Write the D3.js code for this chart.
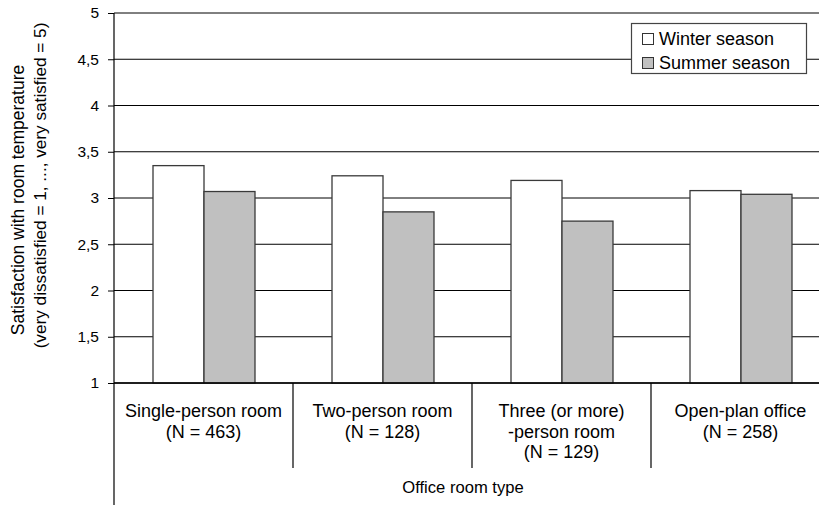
<!DOCTYPE html>
<html>
<head>
<meta charset="utf-8">
<script src="https://cdn.jsdelivr.net/npm/d3@7"></script>
<style>
  html, body { margin: 0; padding: 0; background: #fff; }
  svg { display: block; font-family: "Liberation Sans", Arial, sans-serif; }
</style>
</head>
<body>
<svg id="chart" width="819" height="505"></svg>
<script>
// Office room types (label lines) and mean satisfaction per season
const categories = [
  ["Single-person room", "(N = 463)"],
  ["Two-person room", "(N = 128)"],
  ["Three (or more)", "-person room", "(N = 129)"],
  ["Open-plan office", "(N = 258)"]
];
const winter = [3.35, 3.24, 3.19, 3.08];
const summer = [3.07, 2.85, 2.75, 3.04];
const seriesNames = ["Winter season", "Summer season"];
const seriesColors = ["#ffffff", "#c0c0c0"];
const yTicks = [1, 1.5, 2, 2.5, 3, 3.5, 4, 4.5, 5];
const yTitle = ["Satisfaction with room temperature",
                "(very dissatisfied = 1, ..., very satisfied = 5)"];
const xTitle = "Office room type";

const svg = d3.select("#chart");
const plotLeft = 114, plotRight = 830, plotTop = 13, plotBottom = 383;

const keys = categories.map(c => c.join(" "));
const rows = keys.map((k, i) => ({ key: k, lines: categories[i], values: [winter[i], summer[i]] }));

const y = d3.scaleLinear().domain([1, 5]).range([plotBottom, plotTop]);
const x = d3.scaleBand().domain(keys).range([plotLeft, plotRight]).padding(0);
const xs = d3.scaleBand().domain([0, 1]).range([0, x.bandwidth()])
  .paddingInner(0).paddingOuter(0.755);

const comma = d3.formatLocale({ decimal: ",", thousands: ".", grouping: [3], currency: ["", ""] }).format("~g");

// horizontal gridlines
svg.append("g")
  .selectAll("line")
  .data(yTicks)
  .join("line")
  .attr("x1", plotLeft).attr("x2", plotRight)
  .attr("y1", d => y(d)).attr("y2", d => y(d))
  .attr("stroke", "#000").attr("stroke-width", 1);

// bars
const groups = svg.append("g")
  .selectAll("g")
  .data(rows)
  .join("g")
  .attr("transform", d => `translate(${x(d.key)},0)`);

groups.selectAll("rect")
  .data(d => d.values.map((v, i) => ({ i, v })))
  .join("rect")
  .attr("x", d => xs(d.i) + 0.5)
  .attr("width", xs.bandwidth())
  .attr("y", d => y(d.v))
  .attr("height", d => y(1) - y(d.v))
  .attr("fill", d => seriesColors[d.i])
  .attr("stroke", "#3a3a3a")
  .attr("stroke-width", 1.3);

// y axis with ticks and comma decimal labels
const yAxis = svg.append("g")
  .attr("transform", `translate(${plotLeft},0)`)
  .call(d3.axisLeft(y).tickValues(yTicks).tickSize(6).tickPadding(9).tickFormat(comma));
yAxis.select(".domain").remove();
yAxis.selectAll(".tick line").attr("stroke", "#000");
yAxis.selectAll(".tick text")
  .attr("font-size", 15.5)
  .attr("font-family", "Liberation Sans, Arial, sans-serif")
  .attr("fill", "#000");

// axis line, extended down through the category label area
svg.append("line")
  .attr("x1", plotLeft).attr("x2", plotLeft)
  .attr("y1", plotTop).attr("y2", 505)
  .attr("stroke", "#000").attr("stroke-width", 1.2);

// baseline
svg.append("line")
  .attr("x1", plotLeft).attr("x2", plotRight)
  .attr("y1", y(1)).attr("y2", y(1))
  .attr("stroke", "#000").attr("stroke-width", 1.3);

// category separators
svg.append("g")
  .selectAll("line")
  .data(keys.slice(1).concat([null]))
  .join("line")
  .attr("x1", d => d ? x(d) : plotRight).attr("x2", d => d ? x(d) : plotRight)
  .attr("y1", y(1)).attr("y2", 468)
  .attr("stroke", "#000").attr("stroke-width", 1.2);

// category labels
const catLabels = svg.append("g")
  .selectAll("text")
  .data(rows)
  .join("text")
  .attr("text-anchor", "middle")
  .attr("font-size", 18)
  .attr("fill", "#000")
  .attr("x", d => x(d.key) + x.bandwidth() / 2)
  .attr("y", 417);
catLabels.selectAll("tspan")
  .data(d => d.lines)
  .join("tspan")
  .attr("x", function () { return d3.select(this.parentNode).attr("x"); })
  .attr("dy", (d, i) => i === 0 ? 0 : 20.5)
  .text(d => d);

// x title
svg.append("text")
  .attr("x", 463).attr("y", 493)
  .attr("text-anchor", "middle")
  .attr("font-size", 16.6)
  .attr("fill", "#000")
  .text(xTitle);

// y title, two rotated lines
svg.append("text")
  .attr("transform", "translate(24,200) rotate(-90)")
  .attr("text-anchor", "middle")
  .attr("font-size", 17.5)
  .attr("fill", "#000")
  .text(yTitle[0]);
svg.append("text")
  .attr("transform", "translate(46,185.5) rotate(-90)")
  .attr("text-anchor", "middle")
  .attr("font-size", 17.2)
  .attr("fill", "#000")
  .text(yTitle[1]);

// legend
const legend = svg.append("g").attr("transform", "translate(631,23)");
legend.append("rect")
  .attr("x", 0.5).attr("y", 0.5)
  .attr("width", 175).attr("height", 50)
  .attr("fill", "#fff").attr("stroke", "#444").attr("stroke-width", 1.2);
const items = legend.selectAll("g.item")
  .data(seriesNames)
  .join("g")
  .attr("class", "item")
  .attr("transform", (d, i) => `translate(11,${10 + i * 24})`);
items.append("rect")
  .attr("x", 0.5).attr("y", 0.5)
  .attr("width", 11).attr("height", 11)
  .attr("fill", (d, i) => seriesColors[i])
  .attr("stroke", "#333").attr("stroke-width", 1);
items.append("text")
  .attr("x", 17).attr("y", 11.5)
  .attr("font-size", 18)
  .attr("fill", "#000")
  .text(d => d);
</script>
</body>
</html>
